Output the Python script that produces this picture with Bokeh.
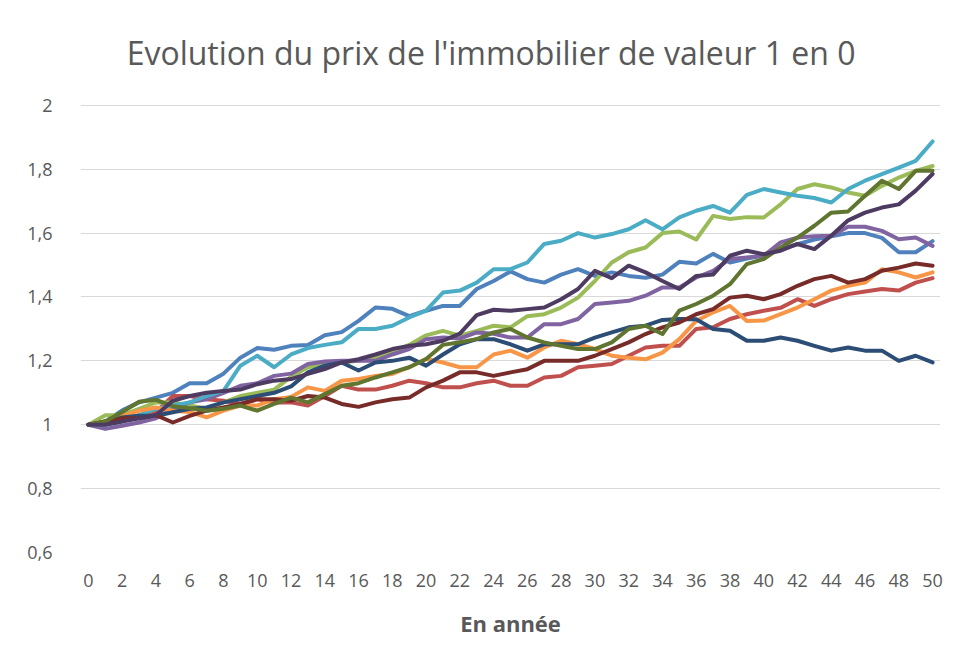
from bokeh.plotting import figure
from bokeh.models import Label, FixedTicker, CustomJSTickFormatter, Range1d
from bokeh.embed import file_html
from bokeh.resources import INLINE

years = list(range(0, 51))
x_ticks = list(range(0, 51, 2))
y_ticks = [0.6, 0.8, 1.0, 1.2, 1.4, 1.6, 1.8, 2.0]
title_text = "Evolution du prix de l'immobilier de valeur 1 en 0"
x_label = "En année"

s_blue = [1.00, 1.01, 1.045, 1.07, 1.085, 1.10, 1.13, 1.13, 1.16, 1.21, 1.24, 1.235, 1.247, 1.25, 1.28, 1.29, 1.325, 1.367, 1.363, 1.34, 1.357, 1.372, 1.372, 1.425, 1.45, 1.48, 1.456, 1.445, 1.47, 1.487, 1.466, 1.477, 1.466, 1.46, 1.47, 1.51, 1.505, 1.535, 1.508, 1.52, 1.53, 1.55, 1.565, 1.58, 1.59, 1.60, 1.60, 1.585, 1.54, 1.54, 1.575]
s_red = [1.00, 1.01, 1.02, 1.03, 1.04, 1.09, 1.09, 1.08, 1.075, 1.065, 1.08, 1.07, 1.07, 1.06, 1.09, 1.122, 1.11, 1.11, 1.122, 1.138, 1.13, 1.117, 1.117, 1.13, 1.138, 1.122, 1.122, 1.148, 1.153, 1.18, 1.185, 1.19, 1.216, 1.242, 1.247, 1.247, 1.30, 1.305, 1.331, 1.346, 1.357, 1.366, 1.393, 1.372, 1.393, 1.409, 1.417, 1.425, 1.42, 1.445, 1.459]
s_green = [1.00, 1.03, 1.03, 1.05, 1.07, 1.07, 1.06, 1.05, 1.07, 1.09, 1.10, 1.11, 1.15, 1.18, 1.19, 1.195, 1.20, 1.21, 1.23, 1.25, 1.28, 1.294, 1.279, 1.294, 1.31, 1.305, 1.34, 1.346, 1.367, 1.398, 1.45, 1.508, 1.54, 1.555, 1.60, 1.605, 1.58, 1.654, 1.644, 1.65, 1.649, 1.69, 1.738, 1.753, 1.743, 1.727, 1.717, 1.748, 1.774, 1.795, 1.81]
s_purple = [1.00, 0.987, 0.997, 1.007, 1.02, 1.05, 1.07, 1.08, 1.10, 1.122, 1.13, 1.153, 1.16, 1.19, 1.198, 1.20, 1.20, 1.20, 1.22, 1.237, 1.268, 1.273, 1.27, 1.289, 1.285, 1.273, 1.273, 1.315, 1.315, 1.331, 1.378, 1.383, 1.388, 1.404, 1.43, 1.43, 1.461, 1.482, 1.519, 1.524, 1.529, 1.571, 1.586, 1.59, 1.592, 1.62, 1.62, 1.607, 1.581, 1.586, 1.56]
s_aqua = [1.00, 1.00, 1.01, 1.03, 1.05, 1.06, 1.07, 1.09, 1.106, 1.185, 1.216, 1.18, 1.22, 1.24, 1.25, 1.258, 1.30, 1.30, 1.31, 1.336, 1.357, 1.414, 1.42, 1.445, 1.487, 1.487, 1.508, 1.566, 1.576, 1.60, 1.586, 1.597, 1.612, 1.64, 1.612, 1.649, 1.67, 1.685, 1.664, 1.72, 1.738, 1.727, 1.717, 1.71, 1.696, 1.738, 1.764, 1.785, 1.805, 1.826, 1.887]
s_orange = [1.00, 1.01, 1.028, 1.044, 1.054, 1.044, 1.04, 1.023, 1.044, 1.06, 1.06, 1.08, 1.087, 1.117, 1.106, 1.138, 1.143, 1.153, 1.159, 1.18, 1.206, 1.195, 1.18, 1.18, 1.22, 1.232, 1.21, 1.242, 1.263, 1.252, 1.237, 1.216, 1.21, 1.205, 1.226, 1.268, 1.325, 1.352, 1.372, 1.325, 1.326, 1.346, 1.367, 1.393, 1.42, 1.435, 1.445, 1.487, 1.477, 1.461, 1.477]
s_navy = [1.00, 1.007, 1.023, 1.028, 1.028, 1.039, 1.05, 1.054, 1.07, 1.08, 1.09, 1.10, 1.12, 1.164, 1.185, 1.195, 1.17, 1.195, 1.20, 1.21, 1.185, 1.22, 1.252, 1.268, 1.268, 1.252, 1.232, 1.252, 1.252, 1.252, 1.273, 1.289, 1.305, 1.31, 1.328, 1.331, 1.33, 1.30, 1.294, 1.263, 1.263, 1.273, 1.263, 1.247, 1.232, 1.242, 1.232, 1.232, 1.20, 1.216, 1.195]
s_darkred = [1.00, 1.01, 1.02, 1.02, 1.03, 1.007, 1.028, 1.044, 1.054, 1.065, 1.08, 1.08, 1.075, 1.09, 1.085, 1.065, 1.056, 1.07, 1.08, 1.085, 1.117, 1.138, 1.164, 1.164, 1.153, 1.164, 1.174, 1.20, 1.20, 1.20, 1.216, 1.237, 1.258, 1.284, 1.305, 1.32, 1.346, 1.362, 1.398, 1.404, 1.393, 1.409, 1.435, 1.456, 1.466, 1.445, 1.456, 1.482, 1.492, 1.505, 1.498]
s_darkgreen = [1.00, 1.01, 1.04, 1.072, 1.078, 1.058, 1.052, 1.044, 1.05, 1.06, 1.044, 1.065, 1.085, 1.07, 1.096, 1.122, 1.13, 1.148, 1.164, 1.18, 1.206, 1.25, 1.258, 1.268, 1.289, 1.30, 1.273, 1.258, 1.247, 1.237, 1.237, 1.258, 1.30, 1.31, 1.284, 1.357, 1.378, 1.404, 1.44, 1.503, 1.519, 1.555, 1.586, 1.623, 1.664, 1.668, 1.717, 1.764, 1.738, 1.795, 1.795]
s_darkpurple = [1.00, 1.00, 1.01, 1.02, 1.03, 1.075, 1.09, 1.10, 1.106, 1.11, 1.127, 1.138, 1.143, 1.159, 1.174, 1.195, 1.205, 1.22, 1.237, 1.247, 1.252, 1.263, 1.285, 1.343, 1.36, 1.357, 1.362, 1.367, 1.393, 1.425, 1.482, 1.459, 1.498, 1.477, 1.45, 1.425, 1.466, 1.47, 1.529, 1.545, 1.534, 1.545, 1.566, 1.55, 1.592, 1.64, 1.664, 1.68, 1.69, 1.733, 1.785]

series = [s_blue, s_red, s_green, s_purple, s_aqua, s_orange, s_navy, s_darkred, s_darkgreen, s_darkpurple]
colors = ["#4F81BD", "#C0504D", "#9BBB59", "#8064A2", "#4BACC6", "#F79646",
          "#2C4D75", "#772C2A", "#5F7530", "#4D3B62"]

TEXT = "#595959"
FONT = "Open Sans"

# the frame is extended above the top tick (2) to hold the chart title
p = figure(width=944, height=647, output_backend="svg", toolbar_location=None,
           x_range=Range1d(-0.47, 50.47), y_range=Range1d(0.6, 2.25),
           min_border_left=80, min_border_right=4, min_border_top=25, min_border_bottom=95)
p.title = None
p.outline_line_color = None
p.background_fill_color = "white"
p.border_fill_color = "white"

for vals, c in zip(series, colors):
    p.line(years, vals, line_color=c, line_width=4, line_join="round", line_cap="round")

p.xaxis.ticker = FixedTicker(ticks=x_ticks)
p.yaxis.ticker = FixedTicker(ticks=y_ticks)
p.yaxis.formatter = CustomJSTickFormatter(code="return tick.toFixed(1).replace('.', ',').replace(',0', '');")

for ax in (p.xaxis, p.yaxis):
    ax.axis_line_color = None
    ax.major_tick_line_color = None
    ax.minor_tick_line_color = None
    ax.major_label_text_color = TEXT
    ax.major_label_text_font = FONT
    ax.major_label_text_font_size = "18px"
p.xaxis.major_label_standoff = 15
p.yaxis.major_label_standoff = 22
p.xaxis.axis_label = x_label
p.xaxis.axis_label_text_font = FONT
p.xaxis.axis_label_text_font_size = "22px"
p.xaxis.axis_label_text_font_style = "bold"
p.xaxis.axis_label_text_color = TEXT
p.xaxis.axis_label_standoff = 18

p.xgrid.grid_line_color = None
p.ygrid.grid_line_color = "#D9D9D9"
p.ygrid.grid_line_width = 1

title = Label(x=23.85, y=2.166, text=title_text, text_align="center", text_baseline="middle",
              text_font=FONT, text_font_size="32px", text_color=TEXT)
p.add_layout(title)

open("out.html", "w").write(file_html(p, INLINE))
